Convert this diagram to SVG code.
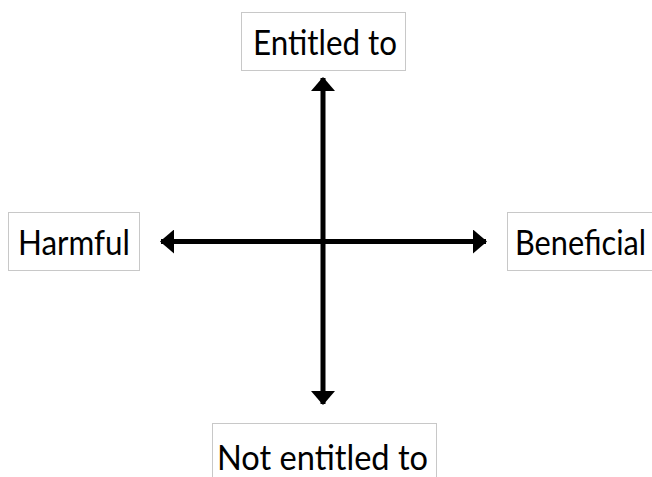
<svg xmlns="http://www.w3.org/2000/svg" width="652" height="477" viewBox="0 0 652 477">
<style>
.box{fill:#fff;stroke:#c8c8c8;stroke-width:1}
.lbl{font-family:Lato,"Open Sans","Liberation Sans",sans-serif;font-size:34px;fill:#000}
.axis{stroke:#000;stroke-width:5;fill:none}
</style>
<defs>
<marker id="ah" viewBox="0 0 14 24" refX="13" refY="12" markerWidth="14" markerHeight="24" markerUnits="userSpaceOnUse" orient="auto-start-reverse">
<path d="M0,0 L14,12 L0,24 z" fill="#000"/>
</marker>
</defs>
<rect width="652" height="477" fill="#fff"/>
<g id="connectors">
<line class="axis" x1="323" y1="78" x2="323" y2="404" marker-start="url(#ah)" marker-end="url(#ah)"/>
<line class="axis" x1="161" y1="241.5" x2="486" y2="241.5" marker-start="url(#ah)" marker-end="url(#ah)"/>
</g>
<g id="entitled">
<rect class="box" x="241.5" y="12.5" width="164" height="58"/>
<text class="lbl" x="253" y="55" textLength="144" lengthAdjust="spacingAndGlyphs">Entitled to</text>
</g>
<g id="harmful">
<rect class="box" x="8.5" y="212.5" width="131" height="58"/>
<text class="lbl" x="18" y="255" textLength="112" lengthAdjust="spacingAndGlyphs">Harmful</text>
</g>
<g id="beneficial">
<rect class="box" x="507.5" y="212.5" width="150" height="58"/>
<text class="lbl" x="515" y="255" textLength="131" lengthAdjust="spacingAndGlyphs">Beneficial</text>
</g>
<g id="not-entitled">
<rect class="box" x="212.5" y="423.5" width="224" height="60"/>
<text class="lbl" x="217" y="470" textLength="211" lengthAdjust="spacingAndGlyphs">Not entitled to</text>
</g>
</svg>
